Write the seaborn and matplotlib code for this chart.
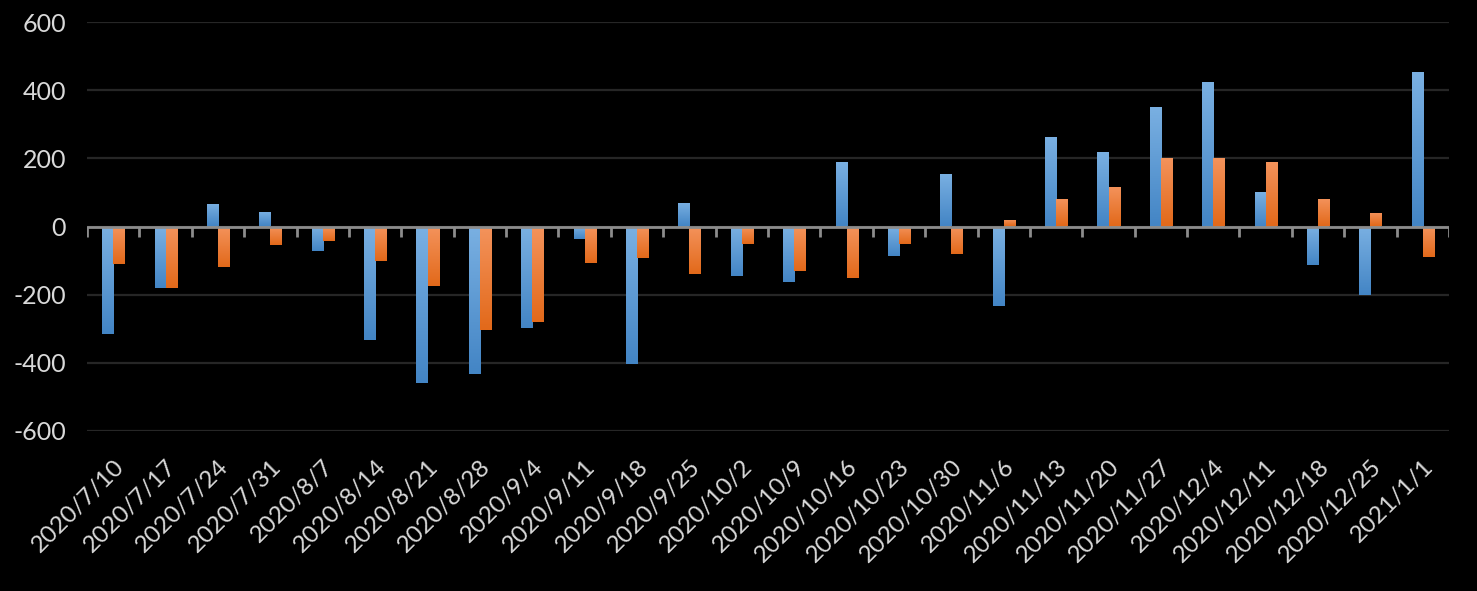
import numpy as np
import pandas as pd
import matplotlib
matplotlib.use("Agg")
import matplotlib.pyplot as plt
from matplotlib.colors import LinearSegmentedColormap
import seaborn as sns

dates = ["2020/7/10", "2020/7/17", "2020/7/24", "2020/7/31", "2020/8/7", "2020/8/14",
         "2020/8/21", "2020/8/28", "2020/9/4", "2020/9/11", "2020/9/18", "2020/9/25",
         "2020/10/2", "2020/10/9", "2020/10/16", "2020/10/23", "2020/10/30", "2020/11/6",
         "2020/11/13", "2020/11/20", "2020/11/27", "2020/12/4", "2020/12/11", "2020/12/18",
         "2020/12/25", "2021/1/1"]
series_blue = [-315, -180, 65, 43, -71, -332, -458, -432, -297, -38, -402, 68,
               -145, -162, 190, -88, 155, -232, 262, 218, 350, 423, 100, -112, -200, 453]
series_orange = [-110, -180, -120, -53, -42, -100, -174, -305, -280, -106, -91, -140,
                 -50, -130, -150, -50, -80, 20, 80, 115, 200, 200, 188, 80, 40, -90]
yticks = [-600, -400, -200, 0, 200, 400, 600]

df = pd.DataFrame({
    "date": dates * 2,
    "value": series_blue + series_orange,
    "series": ["A"] * len(dates) + ["B"] * len(dates),
})

sns.set_theme(style="dark")
plt.rcParams["font.family"] = ["Lato", "DejaVu Sans"]

fig = plt.figure(figsize=(14.77, 5.91), dpi=100, facecolor="black")
ax = fig.add_axes([87 / 1477, 1 - 431 / 591, (1449 - 87) / 1477, (431 - 22) / 591])
ax.set_facecolor("black")

sns.barplot(data=df, x="date", y="value", hue="series",
            palette=["#5B9BD5", "#ED7D31"], width=0.42, saturation=1,
            legend=False, ax=ax, zorder=3)

grads = {
    "A": ("#7AB0E2", "#4385C5"),
    "B": ("#F4935C", "#E2691A"),
}
n = len(dates)
for i, p in enumerate(list(ax.patches)):
    key = "A" if i < n else "B"
    c_top, c_bot = grads[key]
    cmap = LinearSegmentedColormap.from_list("g", [c_top, c_bot])
    x0, y0 = p.get_x(), p.get_y()
    w, h = p.get_width(), p.get_height()
    ylo, yhi = min(y0, y0 + h), max(y0, y0 + h)
    if yhi - ylo == 0:
        continue
    img = ax.imshow(np.linspace(0, 1, 100).reshape(-1, 1), cmap=cmap, aspect="auto",
                    extent=(x0, x0 + w, ylo, yhi), origin="upper", zorder=4,
                    interpolation="bilinear")
    img.set_clip_path(p)
    p.set_edgecolor("none")

ax.set_ylim(-600, 600)
ax.set_xlim(-0.5, n - 0.5)
ax.set_yticks(yticks)
ax.set_yticklabels([str(v) for v in yticks])
ax.grid(axis="y", color="#262626", linewidth=1.6, zorder=0)
ax.grid(axis="x", visible=False)
ax.axhline(0, color="#8C8C8C", linewidth=2, zorder=5)
bounds = np.arange(-0.5, n, 1.0)
ax.vlines(bounds, -32, 0, color="#8C8C8C", linewidth=2, zorder=5)

for s in ax.spines.values():
    s.set_visible(False)
ax.tick_params(axis="both", length=0)
ax.tick_params(axis="y", labelsize=18, colors="#D9D9D9", pad=15)
ax.tick_params(axis="x", labelsize=17.5, colors="#D9D9D9", pad=18)
plt.setp(ax.get_xticklabels(), rotation=45, ha="right", rotation_mode="anchor")
ax.set_xlabel("")
ax.set_ylabel("")

fig.savefig("out.png", dpi=100, facecolor="black")
